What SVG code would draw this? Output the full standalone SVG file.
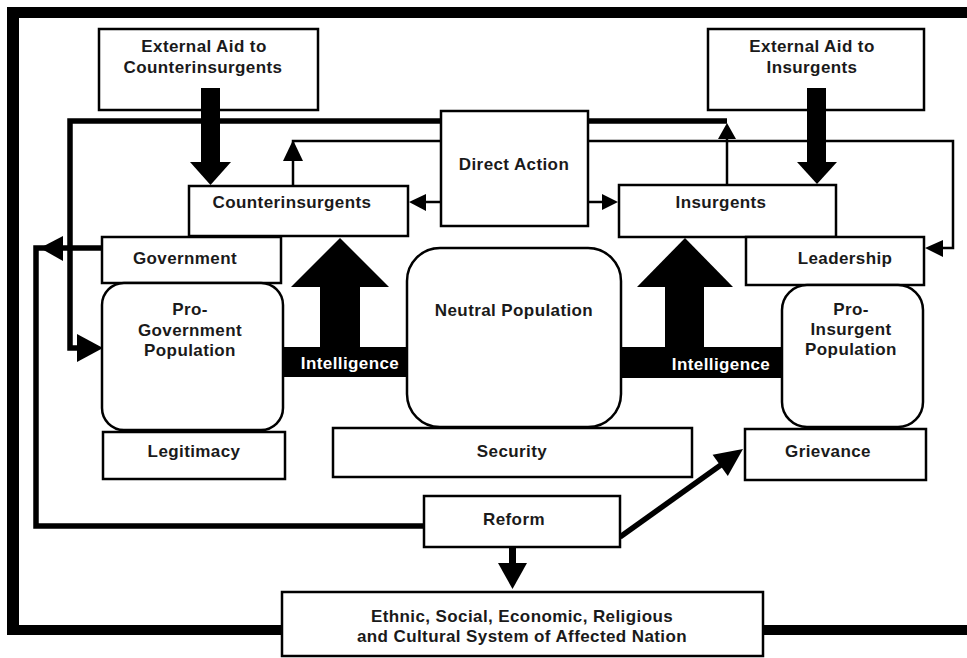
<svg xmlns="http://www.w3.org/2000/svg" width="967" height="658" viewBox="0 0 967 658">
<style>
.box{fill:#fff;stroke:#000;stroke-width:2.5}
.t{font-family:"Liberation Sans",Arial,sans-serif;font-weight:bold;font-size:17px;letter-spacing:0.4px;fill:#1a1a1a;text-anchor:middle}
.w{fill:#fff}
.thick{fill:none;stroke:#000;stroke-width:5.5}
.thin{fill:none;stroke:#000;stroke-width:2.5}
.ah{fill:#000}
</style>
<rect width="967" height="658" fill="#fff"/>
<g id="frame" fill="#000">
<rect x="7" y="7" width="960" height="11"/>
<rect x="7" y="7" width="12" height="628"/>
<rect x="7" y="625" width="276" height="10"/>
<rect x="762" y="625" width="205" height="10"/>
</g>
<g id="connectors">
<polyline class="thick" points="727,121 70,121 70,348 82,348"/>
<polygon class="ah" points="77,334 103,348 77,362"/>
<polyline class="thin" points="442,141 293,141 293,186"/>
<polygon class="ah" points="283,161 293,140 303,161"/>
<polyline class="thin" points="588,141 953,141 953,248 940,248"/>
<polygon class="ah" points="925,248 943,240 943,257"/>
<polyline class="thin" points="727,138 727,186"/>
<polygon class="ah" points="718,139 727,123 736,139"/>
<polyline class="thin" points="442,202 420,202"/>
<polygon class="ah" points="409,202 426,194 426,211"/>
<polyline class="thin" points="588,202 605,202"/>
<polygon class="ah" points="618,202 602,194 602,210"/>
<polyline class="thick" points="102,248 36,248 36,526 424,526" stroke-linejoin="miter"/>
<polygon class="ah" points="40,248 63,236 63,261"/>
<line class="thick" x1="620" y1="537" x2="725" y2="462"/>
<polygon class="ah" points="743,449 712.6,454.7 727.8,475.9"/>
<line x1="512.5" y1="547" x2="512.5" y2="566" stroke="#000" stroke-width="7"/>
<polygon class="ah" points="498,563 527,563 512.5,589"/>
</g>
<g id="intel-left">
<rect x="282" y="347" width="126" height="30" fill="#000"/>
<rect x="320" y="285" width="40" height="64" fill="#000"/>
<polygon class="ah" points="291,287 340,238 389,287"/>
</g>
<g id="intel-right">
<rect x="620" y="347" width="163" height="31" fill="#000"/>
<rect x="665" y="285" width="39" height="64" fill="#000"/>
<polygon class="ah" points="637,287 685,238 733,287"/>
</g>
<g id="aid-ci">
<rect class="box" x="99" y="29" width="219" height="81"/>
<text class="t" x="204" y="52">External Aid to</text>
<text class="t" x="203" y="73">Counterinsurgents</text>
<rect x="201" y="88" width="19" height="76" fill="#000"/>
<polygon class="ah" points="190,162 231,162 210.5,185"/>
</g>
<g id="aid-ins">
<rect class="box" x="708" y="29" width="216" height="81"/>
<text class="t" x="812" y="52">External Aid to</text>
<text class="t" x="812" y="73">Insurgents</text>
<rect x="807" y="88" width="19" height="76" fill="#000"/>
<polygon class="ah" points="797,162 837,162 817,184"/>
</g>
<g id="direct-action">
<rect class="box" x="441" y="111" width="147" height="115"/>
<text class="t" x="514" y="170">Direct Action</text>
</g>
<g id="counterinsurgents">
<rect class="box" x="189" y="186" width="219" height="50"/>
<text class="t" x="292" y="208">Counterinsurgents</text>
</g>
<g id="insurgents">
<rect class="box" x="619" y="185" width="217" height="52"/>
<text class="t" x="721" y="208">Insurgents</text>
</g>
<g id="government">
<rect class="box" x="102" y="237" width="179" height="46"/>
<text class="t" x="185" y="264">Government</text>
</g>
<g id="leadership">
<rect class="box" x="746" y="237" width="178" height="48"/>
<text class="t" x="845" y="264">Leadership</text>
</g>
<g id="pro-gov">
<rect class="box" x="102" y="283" width="181" height="147" rx="22"/>
<text class="t" x="190" y="315">Pro-</text>
<text class="t" x="190" y="336">Government</text>
<text class="t" x="190" y="356">Population</text>
</g>
<g id="neutral">
<rect class="box" x="407" y="248" width="214" height="179" rx="33"/>
<text class="t" x="514" y="316">Neutral Population</text>
</g>
<g id="pro-ins">
<rect class="box" x="782" y="285" width="141" height="142" rx="25"/>
<text class="t" x="851" y="315">Pro-</text>
<text class="t" x="851" y="335">Insurgent</text>
<text class="t" x="851" y="355">Population</text>
</g>
<text class="t w" x="350" y="369">Intelligence</text>
<text class="t w" x="721" y="370">Intelligence</text>
<g id="legitimacy">
<rect class="box" x="103" y="432" width="182" height="47"/>
<text class="t" x="194" y="457">Legitimacy</text>
</g>
<g id="security">
<rect class="box" x="333" y="428" width="359" height="49"/>
<text class="t" x="512" y="457">Security</text>
</g>
<g id="grievance">
<rect class="box" x="745" y="429" width="181" height="51"/>
<text class="t" x="828" y="457">Grievance</text>
</g>
<g id="reform">
<rect class="box" x="424" y="496" width="196" height="51"/>
<text class="t" x="514" y="525">Reform</text>
</g>
<g id="ethnic">
<rect class="box" x="282" y="592" width="481" height="64"/>
<text class="t" x="522" y="622">Ethnic, Social, Economic, Religious</text>
<text class="t" x="522" y="642">and Cultural System of Affected Nation</text>
</g>
</svg>
